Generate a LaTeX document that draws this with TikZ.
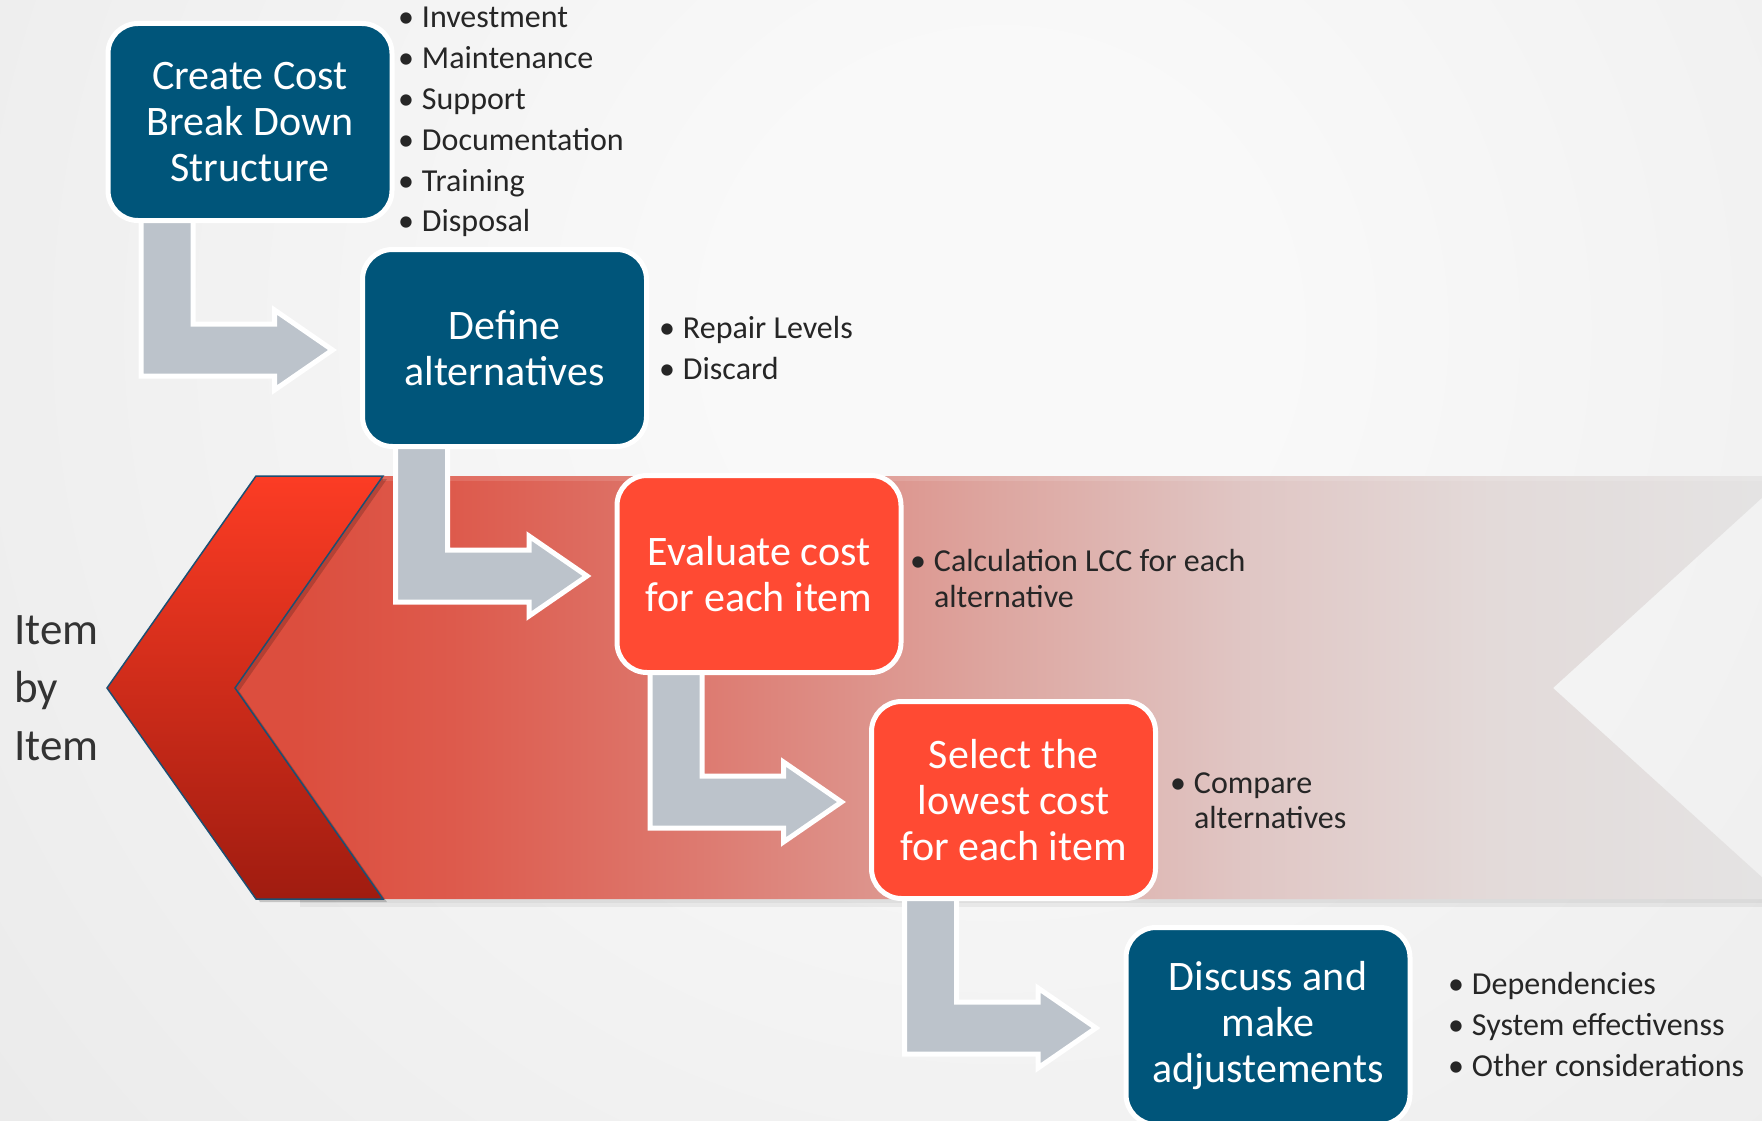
\documentclass[tikz,border=0pt]{standalone}
\usepackage{fontspec}
\setmainfont{Carlito}
\usetikzlibrary{calc}

\definecolor{boxblue}{RGB}{0,85,122}
\definecolor{boxred}{RGB}{255,74,51}
\definecolor{elbowgray}{RGB}{188,195,203}
\definecolor{bodytext}{RGB}{38,38,38}
\definecolor{sidetext}{RGB}{51,51,51}
\definecolor{bgin}{RGB}{249,249,249}
\definecolor{bgout}{RGB}{221,221,221}
\definecolor{band0}{RGB}{220,78,62}
\definecolor{band1}{RGB}{221,90,76}
\definecolor{band2}{RGB}{221,122,112}
\definecolor{band3}{RGB}{221,166,160}
\definecolor{band4}{RGB}{224,198,196}
\definecolor{band5}{RGB}{227,218,217}
\definecolor{band6}{RGB}{228,228,228}
\definecolor{chevtop}{RGB}{252,60,36}
\definecolor{chevbot}{RGB}{160,28,16}
\definecolor{chevline}{RGB}{28,79,114}

% soft light backdrop
\pgfdeclareradialshading{backdrop}{\pgfpoint{0bp}{0bp}}{%
  color(0bp)=(bgin); color(5bp)=(bgin); color(42bp)=(bgout); color(50bp)=(bgout)}
% red band fading out to the right
\pgfdeclarehorizontalshading{bandfade}{100bp}{%
  color(0bp)=(band0); color(27bp)=(band0); color(32bp)=(band1);
  color(40bp)=(band2); color(49.5bp)=(band3); color(57.5bp)=(band4);
  color(65.5bp)=(band5); color(75bp)=(band6); color(100bp)=(band6)}
% chevron: bright red at the top, dark red at the bottom
\pgfdeclareverticalshading{chevronfill}{100bp}{%
  color(0bp)=(chevbot); color(25bp)=(chevbot); color(75bp)=(chevtop); color(100bp)=(chevtop)}

\pgfdeclarelayer{backdroplayer}
\pgfdeclarelayer{arrowlayer}
\pgfsetlayers{backdroplayer,arrowlayer,main}

\newcommand\bul{\llap{\textbullet\hspace{8pt}}}
% elbow arrow from the bottom of one stage to the left side of the next
\newcommand\elbowarrow[2]{%
  \draw[elbow] ($(#1.south west)+(33,-12)$) |- ($(#2.west)+(-88,28)$)
    -- ($(#2.west)+(-88,42)$) -- ($(#2.west)+(-30,2)$)
    -- ($(#2.west)+(-88,-38)$) -- ($(#2.west)+(-88,-24)$)
    -| ($(#1.south west)+(85,-12)$) -- cycle;}

\begin{document}
\begin{tikzpicture}[x=1pt,y=-1pt,
  stage/.style={rounded corners=30pt, line width=5pt, draw=white,
    minimum width=284pt, minimum height=197pt, inner sep=0pt, outer sep=0pt,
    align=center, text=white, font=\fontsize{42}{46}\selectfont},
  bluestage/.style={stage, fill=boxblue},
  redstage/.style={stage, fill=boxred},
  elbow/.style={fill=elbowgray, draw=white, line width=5pt, line join=miter},
  notes/.style={anchor=base west, inner sep=0pt, outer sep=0pt, text=bodytext,
    font=\fontsize{32}{41}\selectfont},
]
\useasboundingbox (0,0) rectangle (1762,1121);

\begin{pgfonlayer}{backdroplayer}
  \begin{scope}
    \clip (0,0) rectangle (1762,1121);
    \shade[shading=backdrop] (1000,330) circle (1350pt);
    % shadow under the band
    \fill[black, opacity=0.05] (300,899) rectangle (1790,907);
    \fill[black, opacity=0.04] (300,899) rectangle (1790,903);
    % band, its left end tucked behind the chevron
    \shade[shading=bandfade] (300,476) -- (1786,476) -- (1553,688)
      -- (1786,899) -- (300,899) -- (235,688) -- cycle;
    % light rim along the top of the band
    \fill[white, opacity=0.12] (383,476) rectangle (1786,481);
    % chevron shadow and chevron
    \fill[black, opacity=0.18] (260,479) -- (387,479) -- (239,691)
      -- (387,902) -- (260,902) -- (111,691) -- cycle;
    \shadedraw[shading=chevronfill, draw=chevline, line width=1.5pt]
      (256,476) -- (383,476) -- (235,688) -- (383,899) -- (256,899)
      -- (107,688) -- cycle;
  \end{scope}
\end{pgfonlayer}

% stages
\node[bluestage] (b1) at (250,122) {Create Cost\\Break Down\\Structure};
\node[bluestage] (b2) at (504.5,348) {Define\\alternatives};
\node[redstage]  (b3) at (759,574) {Evaluate cost\\for each item};
\node[redstage]  (b4) at (1013.5,800) {Select the\\lowest cost\\for each item};
\node[bluestage] (b5) at (1268,1026) {Discuss and\\make\\adjustements};

\begin{pgfonlayer}{arrowlayer}
  \elbowarrow{b1}{b2}
  \elbowarrow{b2}{b3}
  \elbowarrow{b3}{b4}
  \elbowarrow{b4}{b5}
\end{pgfonlayer}

% notes beside each stage
\node[notes, font=\fontsize{32}{40.8}\selectfont] (l1) at (422,28)
  {\begin{tabular}[t]{@{}l@{}}\bul Investment\\\bul Maintenance\\\bul Support\\
   \bul Documentation\\\bul Training\\\bul Disposal\end{tabular}};
\node[notes] (l2) at (683,338)
  {\begin{tabular}[t]{@{}l@{}}\bul Repair Levels\\\bul Discard\end{tabular}};
\node[notes, font=\fontsize{32}{36}\selectfont] (l3) at (934,571)
  {\begin{tabular}[t]{@{}l@{}}\bul Calculation LCC for each\\alternative\end{tabular}};
\node[notes, font=\fontsize{32}{35}\selectfont] (l4) at (1194,793)
  {\begin{tabular}[t]{@{}l@{}}\bul Compare\\alternatives\end{tabular}};
\node[notes] (l5) at (1472,994)
  {\begin{tabular}[t]{@{}l@{}}\bul Dependencies\\\bul System effectivenss\\
   \bul Other considerations\end{tabular}};

% side label
\node[anchor=base west, inner sep=0pt, text=sidetext, font=\fontsize{45}{58}\selectfont]
  (side) at (14,644) {\begin{tabular}[t]{@{}l@{}}Item\\by\\Item\end{tabular}};
\end{tikzpicture}
\end{document}
